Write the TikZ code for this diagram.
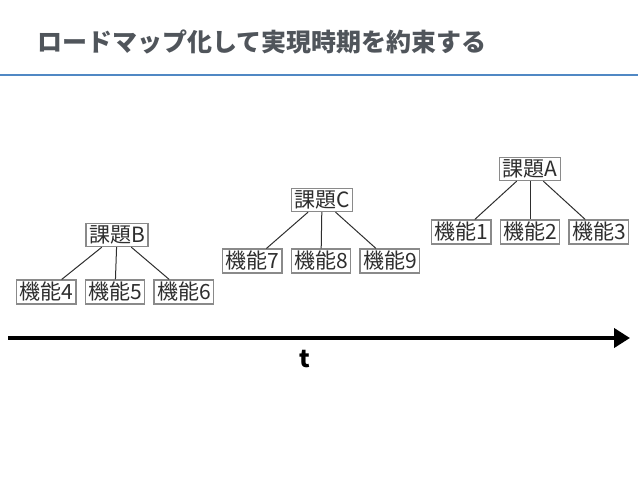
\documentclass[tikz,border=0pt]{standalone}
\usepackage{fontspec}
\usepackage{tikz}
\usetikzlibrary{arrows.meta, positioning}
\newfontfamily\jpfont{Noto Sans CJK JP}
\definecolor{titleGray}{HTML}{50555B}
\definecolor{ruleBlue}{HTML}{5088C4}
\definecolor{boxGray}{HTML}{8A8A8A}
\definecolor{inkGray}{HTML}{2E2E2E}

\begin{document}
\begin{tikzpicture}[x=1pt, y=-1pt,
  kadai/.style={draw=boxGray, line width=1.3pt, fill=white, text=inkGray,
                font=\jpfont\fontsize{21}{22}\selectfont,
                inner xsep=3pt, inner ysep=2.2pt},
  kinou/.style={kadai},
  link/.style={draw=inkGray, line width=1pt},
  timearr/.style={line width=4pt, -{Triangle[length=16pt, width=19pt]}},
  node distance=8pt
]
  \useasboundingbox (0,0) rectangle (638,479);
  \node[anchor=west, text=titleGray, font=\jpfont\bfseries\fontsize{25}{26}\selectfont]
    (title) at (34,42) {ロードマップ化して実現時期を約束する};
  \coordinate (ruleL) at (0,75);
  \coordinate (ruleR) at (638,75);
  \draw[ruleBlue, line width=1.5pt] (ruleL) -- (ruleR);

  \node[kadai] (kadaiB) at (117,235) {課題B};
  \node[kinou] (kinou5) at (115,292) {機能5};
  \node[kinou, left=of kinou5] (kinou4) {機能4};
  \node[kinou, right=of kinou5] (kinou6) {機能6};

  \node[kadai] (kadaiC) at (322,200) {課題C};
  \node[kinou] (kinou8) at (321,261) {機能8};
  \node[kinou, left=of kinou8] (kinou7) {機能7};
  \node[kinou, right=of kinou8] (kinou9) {機能9};

  \node[kadai] (kadaiA) at (530,169) {課題A};
  \node[kinou] (kinou2) at (530,232) {機能2};
  \node[kinou, left=of kinou2] (kinou1) {機能1};
  \node[kinou, right=of kinou2] (kinou3) {機能3};

  \foreach \k/\a/\b/\c in {kadaiB/4/5/6, kadaiC/7/8/9, kadaiA/1/2/3} {
    \draw[link] (\k) -- (kinou\a);
    \draw[link] (\k) -- (kinou\b);
    \draw[link] (\k) -- (kinou\c);
  }

  \coordinate (tstart) at (8,338);
  \coordinate (tend) at (630,338);
  \draw[timearr] (tstart) -- (tend);
  \node[font=\jpfont\bfseries\fontsize{24}{24}\selectfont] (tlabel) at (305,359) {t};
\end{tikzpicture}
\end{document}
